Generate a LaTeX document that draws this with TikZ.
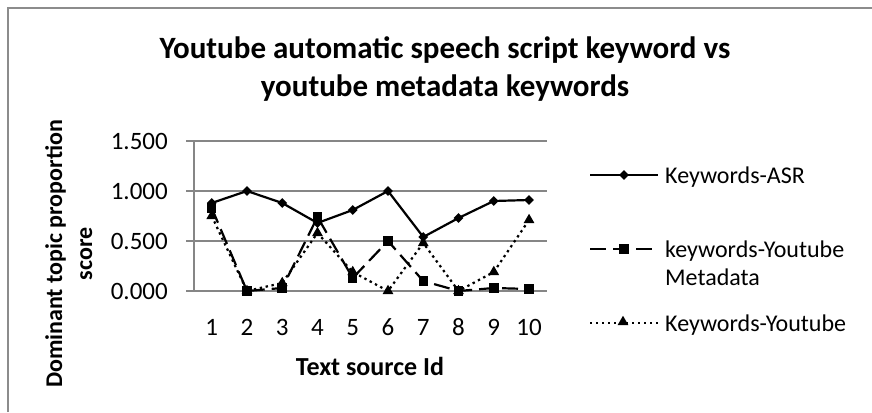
\documentclass[tikz,border=0pt]{standalone}
\usepackage{fontspec}
\setmainfont{Carlito}
\usetikzlibrary{shapes.geometric}
\definecolor{gridgray}{HTML}{868686}
\definecolor{framegray}{HTML}{8C8C8C}
\begin{document}
\begin{tikzpicture}[x=1pt,y=-1pt,
  lbl/.style={font=\fontsize{24}{29}\selectfont, inner sep=0pt},
  ticklbl/.style={font=\fontsize{25}{30}\selectfont, inner sep=0pt},
  axttl/.style={font=\bfseries\fontsize{24}{29}\selectfont, inner sep=0pt},
  xttl/.style={font=\bfseries\fontsize{26}{31}\selectfont, inner sep=0pt},
  charttitle/.style={font=\bfseries\fontsize{31}{37}\selectfont, inner sep=0pt},
  gridline/.style={draw=gridgray, line width=1.5pt},
  serA/.style={line width=2.2pt, line join=round},
  serM/.style={line width=2.2pt, line join=round, dash pattern=on 16pt off 7pt},
  serT/.style={line width=2.2pt, line join=round, dash pattern=on 2.4pt off 3.6pt},
  dmark/.style={diamond, fill=black, minimum size=10pt, inner sep=0pt},
  smark/.style={rectangle, fill=black, minimum size=9.5pt, inner sep=0pt},
  tmark/.style={regular polygon, regular polygon sides=3, fill=black, minimum size=12.5pt, inner sep=0pt},
]
\useasboundingbox (0,0) rectangle (872,412);
% outer frame (only top and left edges visible)
\draw[framegray, line width=1.2pt] (8,412) -- (8,8) -- (872,8);

% title
\node[charttitle, anchor=base] (title1) at (445,59) {Youtube automatic speech script keyword vs};
\node[charttitle, anchor=base] (title2) at (445,96) {youtube metadata keywords};

% gridlines and axis
\foreach \gy in {141,191,241,291} {
  \draw[gridline] (186,\gy) -- (546.7,\gy);
}
\draw[gridline] (194,141) -- (194,291);

% y tick labels
\node[ticklbl, anchor=base east] (yl3) at (168,149) {1.500};
\node[ticklbl, anchor=base east] (yl2) at (168,199) {1.000};
\node[ticklbl, anchor=base east] (yl1) at (168,249) {0.500};
\node[ticklbl, anchor=base east] (yl0) at (168,299) {0.000};

% x tick labels
\foreach \i in {1,...,10} {
  \node[ticklbl, anchor=base] (xl\i) at ({211.7+35.26*(\i-1)},335) {\i};
}

% axis titles
\node[xttl, anchor=base] (xtitle) at (370,375) {Text source Id};
\node[axttl, anchor=base, rotate=90] (ytitle1) at (62,254) {Dominant topic proportion};
\node[axttl, anchor=base, rotate=90] (ytitle2) at (92,254) {score};

% data point positions
\foreach \v [count=\i] in {0.88,1.00,0.88,0.68,0.81,1.00,0.54,0.73,0.90,0.91} {
  \coordinate (a\i) at ({211.7+35.26*(\i-1)},{291-100*\v});
}
\foreach \v [count=\i] in {0.83,0.00,0.03,0.74,0.13,0.50,0.10,0.00,0.03,0.02} {
  \coordinate (m\i) at ({211.7+35.26*(\i-1)},{291-100*\v});
}
\foreach \v [count=\i] in {0.75,0.00,0.08,0.58,0.19,0.00,0.48,0.00,0.19,0.71} {
  \coordinate (t\i) at ({211.7+35.26*(\i-1)},{291-100*\v});
}

% series lines
\draw[serT] (t1) \foreach \i in {2,...,10} { -- (t\i) };
\draw[serM] (m1) \foreach \i in {2,...,10} { -- (m\i) };
\draw[serA] (a1) \foreach \i in {2,...,10} { -- (a\i) };

% markers
\foreach \i in {1,...,10} {
  \node[tmark] (tm\i) at (t\i) {};
  \node[smark] (mm\i) at (m\i) {};
  \node[dmark] (am\i) at (a\i) {};
}

% legend
\coordinate (lgA1) at (590,175); \coordinate (lgA2) at (658,175);
\draw[serA] (lgA1) -- (lgA2);
\node[dmark] (lgAm) at (624,175) {};
\node[lbl, anchor=base west] (lgAt) at (665,183) {Keywords-ASR};

\coordinate (lgM1) at (590,249); \coordinate (lgM2) at (658,249);
\draw[serM] (lgM1) -- (lgM2);
\node[smark] (lgMm) at (624,249) {};
\node[lbl, anchor=base west] (lgMt1) at (665,257) {keywords-Youtube};
\node[lbl, anchor=base west] (lgMt2) at (665,285) {Metadata};

\coordinate (lgT1) at (590,323); \coordinate (lgT2) at (658,323);
\draw[serT] (lgT1) -- (lgT2);
\node[tmark] (lgTm) at (623,322) {};
\node[lbl, anchor=base west] (lgTt) at (665,331) {Keywords-Youtube};
\end{tikzpicture}
\end{document}
